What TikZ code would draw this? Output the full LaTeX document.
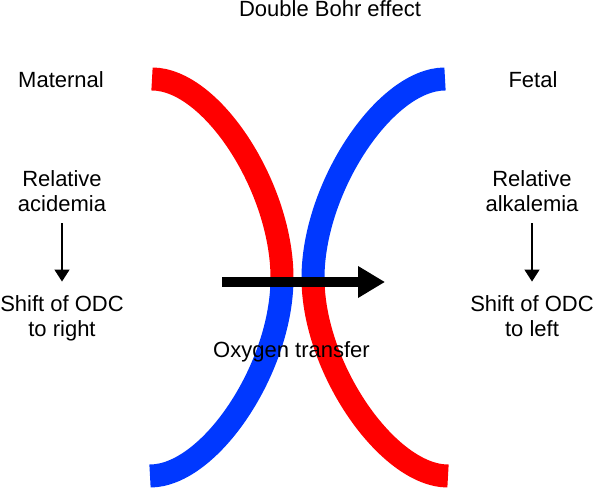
\documentclass[tikz,border=0pt]{standalone}
\usepackage{fontspec}
\setmainfont{Liberation Sans}
\usetikzlibrary{arrows.meta}
\definecolor{bohrred}{RGB}{255,0,0}
\definecolor{bohrblue}{RGB}{0,56,255}

\tikzset{
  lbl/.style={font=\fontsize{22}{25}\selectfont, inner sep=0pt, align=center, anchor=base},
  vessel/.style={line width=23pt},
  shiftarrow/.style={line width=1.5pt, -{Triangle[length=12pt,width=15pt]}, shorten <=11pt, shorten >=14pt},
}

\begin{document}
\begin{tikzpicture}[x=1pt,y=1pt]
    \useasboundingbox (0,0) rectangle (594,489);

    % vessels: maternal left, fetal right
    \draw[vessel, bohrred]  (152,410) .. controls (212,410) and (282,301) .. (282,211);
    \draw[vessel, bohrblue] (282,211) .. controls (282,121) and (210,13) .. (150,13);
    \draw[vessel, bohrblue] (445,410) .. controls (385,410) and (313,301) .. (313,211);
    \draw[vessel, bohrred]  (313,211) .. controls (313,121) and (388,13) .. (448,13);

    % labels
    \node[lbl] (title) at (330,472.3) {Double Bohr effect};
    \node[lbl] (maternal) at (61,401) {Maternal};
    \node[lbl] (fetal) at (533,401) {Fetal};
    \node[lbl] (acidL) at (62,277.3) {Relative\\acidemia};
    \node[lbl] (shiftL) at (62,152.3) {Shift of ODC\\to right};
    \node[lbl] (alkR) at (532,277.3) {Relative\\alkalemia};
    \node[lbl] (shiftR) at (532,152.3) {Shift of ODC\\to left};
    \node[lbl] (oxygen) at (291.5,131) {Oxygen transfer};

    \draw[shiftarrow] (acidL) -- (shiftL);
    \draw[shiftarrow] (alkR) -- (shiftR);

    % oxygen transfer arrow
    \coordinate (o2start) at (222,207);
    \coordinate (o2end) at (385,207);
    \draw[line width=10pt, -{Triangle[length=27pt,width=30pt]}] (o2start) -- (o2end);
\end{tikzpicture}
\end{document}
